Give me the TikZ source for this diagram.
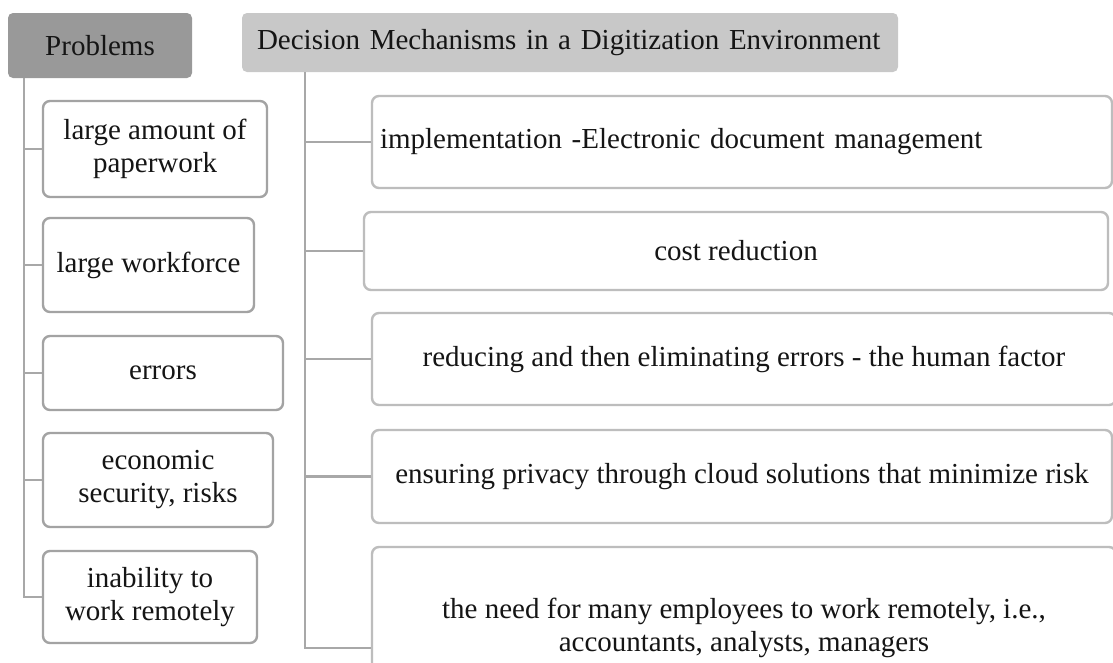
\documentclass[tikz,border=0pt]{standalone}
\usepackage{fontspec}
\setmainfont{Liberation Serif}
\definecolor{probfill}{HTML}{999999}
\definecolor{headfill}{HTML}{C8C8C8}
\definecolor{lborder}{HTML}{A3A3A3}
\definecolor{rborder}{HTML}{BDBDBD}
\definecolor{linecol}{HTML}{A8A8A8}
\definecolor{txt}{HTML}{151515}
\tikzset{
  every node/.style={font=\fontsize{29}{33}\selectfont, text=txt},
  probbox/.style={fill=probfill, rounded corners=5pt, inner sep=0pt, align=center},
  headbox/.style={fill=headfill, rounded corners=5pt, inner sep=0pt},
  lbox/.style={draw=lborder, line width=2.4pt, fill=white, rounded corners=7pt, inner sep=0pt, align=center},
  rbox/.style={draw=rborder, line width=2.4pt, fill=white, rounded corners=7pt, inner sep=0pt, align=center},
  conn/.style={draw=linecol, line width=2.4pt}
}
\begin{document}
\begin{tikzpicture}[x=1pt,y=-1pt]
\clip (0,0) rectangle (1113,662);
\fill[white] (0,0) rectangle (1113,662);

% headers
\node[probbox, minimum width=184pt, minimum height=65pt] (prob) at (100,45.5) {Problems};
\node[headbox, minimum width=656pt, minimum height=59pt, text width=636pt, align=left, inner xsep=10pt] (head) at (570,42.5) {\hspace*{5pt}Decision Mechanisms in a Digitization Environment};

% left boxes
\node[lbox, minimum width=224pt, minimum height=96pt] (l1) at (155,149) {large amount of\\paperwork};
\node[lbox, minimum width=211pt, minimum height=94pt] (l2) at (148.5,265) {large workforce};
\node[lbox, minimum width=240pt, minimum height=74pt] (l3) at (163,373) {errors};
\node[lbox, minimum width=230pt, minimum height=94pt] (l4) at (158,480) {economic\\security, risks};
\node[lbox, minimum width=214pt, minimum height=92pt] (l5) at (150,597) {inability to\\work remotely};

% right boxes
\node[rbox, minimum width=740pt, minimum height=92pt, text width=724pt, align=left, inner xsep=8pt] (r1) at (742,142) {implementation -Electronic document management};
\node[rbox, minimum width=744pt, minimum height=78pt] (r2) at (736,251) {cost reduction};
\node[rbox, minimum width=744pt, minimum height=92pt] (r3) at (744,359) {reducing and then eliminating errors - the human factor};
\node[rbox, minimum width=740pt, minimum height=93pt] (r4) at (742,476.5) {ensuring privacy through cloud solutions that minimize risk};
\node[rbox, minimum width=744pt, minimum height=162pt] (r5) at (744,628) {the need for many employees to work remotely, i.e.,\\accountants, analysts, managers};

% left connectors
\coordinate (lt) at (24,78);
\draw[conn] (lt) |- (l5.west);
\foreach \n in {l1,l2,l3,l4} \draw[conn] (lt |- \n.west) -- (\n.west);

% right connectors
\coordinate (rt) at (305,72);
\draw[conn] (rt) |- ([yshift=-20pt]r5.west);
\foreach \n in {r1,r2,r3,r4} \draw[conn] (rt |- \n.west) -- (\n.west);
\end{tikzpicture}
\end{document}
